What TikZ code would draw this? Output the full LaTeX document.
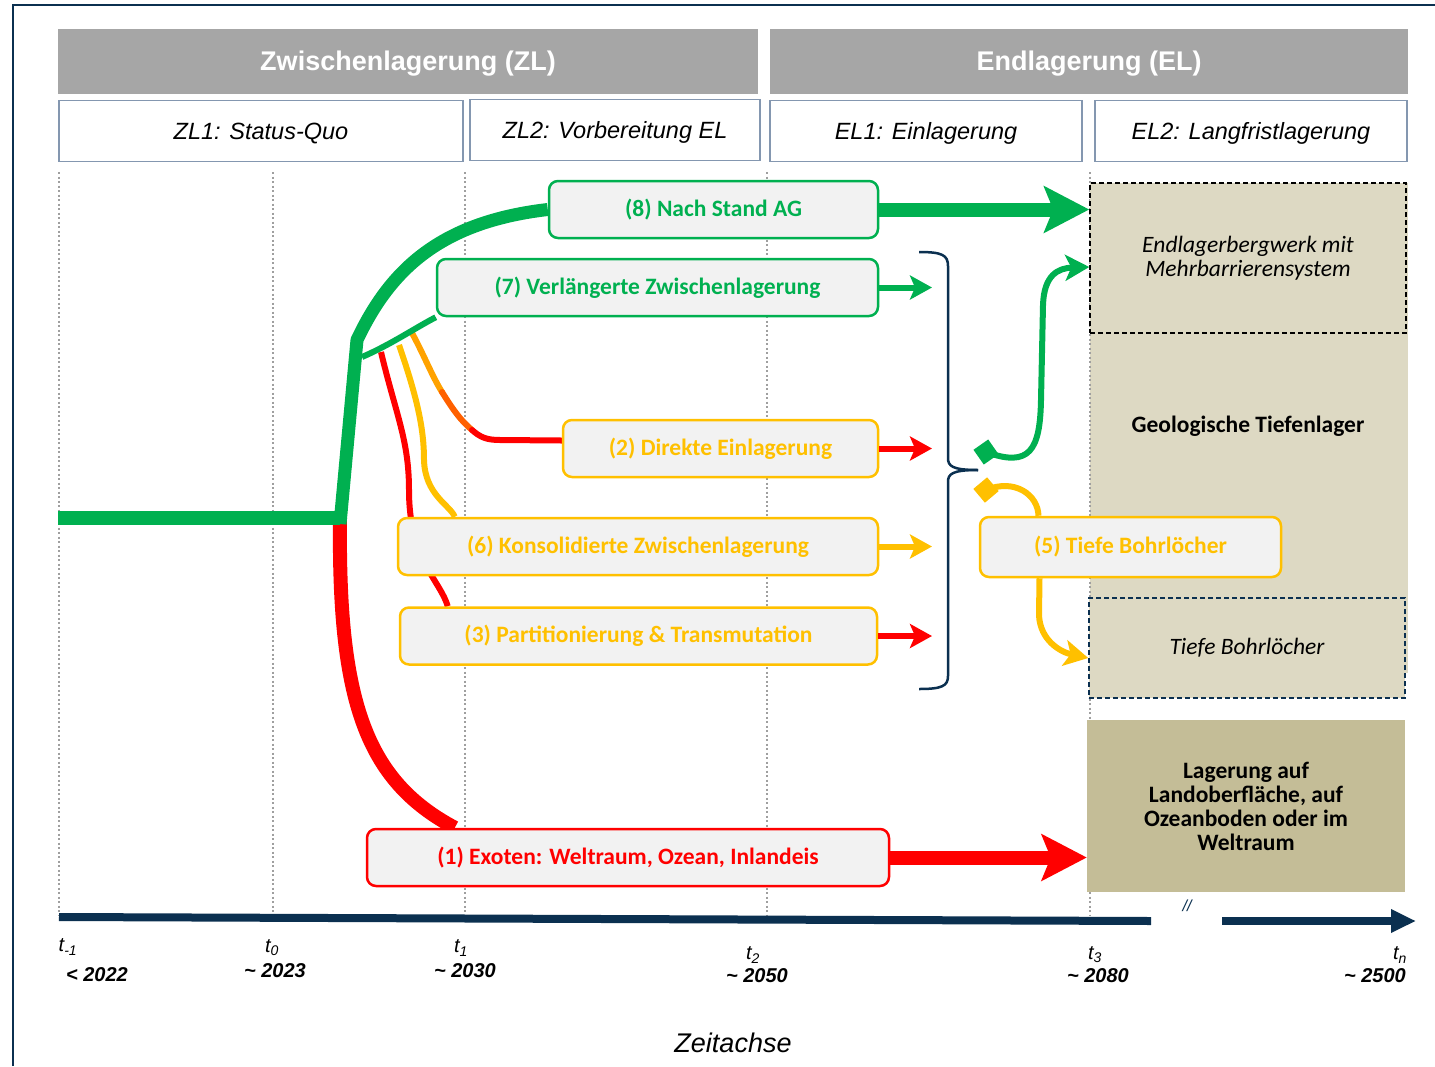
\documentclass[tikz,border=0pt]{standalone}
\usepackage{fontspec}
\setmainfont{Carlito}
\newfontfamily\arialfont{Liberation Sans}
\usetikzlibrary{arrows.meta, calc}
\pgfdeclarelayer{back}
\pgfdeclarelayer{lines}
\pgfsetlayers{back,lines,main}

\definecolor{headgray}{HTML}{A6A6A6}
\definecolor{subframe}{HTML}{8497B0}
\definecolor{boxfill}{HTML}{F2F2F2}
\definecolor{optgreen}{HTML}{00B050}
\definecolor{optyellow}{HTML}{FFC000}
\definecolor{optred}{HTML}{FF0000}
\definecolor{optamber}{HTML}{FFA200}
\definecolor{optorange}{HTML}{FF6000}
\definecolor{axisnavy}{HTML}{0B3050}
\definecolor{beige}{HTML}{DDD9C3}
\definecolor{darkbeige}{HTML}{C4BD97}

\begin{document}
\begin{tikzpicture}[x=1pt, y=-1pt,
    phase/.style={fill=headgray, text=white, inner sep=0pt, minimum height=65pt, text depth=0pt,
        font=\arialfont\bfseries\fontsize{27}{30}\selectfont},
    subphase/.style={draw=subframe, line width=1.5pt, fill=white, inner sep=0pt, text depth=0pt,
        minimum height=61pt, font=\arialfont\itshape\fontsize{23.5}{26}\selectfont},
    option/.style={draw=#1, text=#1, fill=boxfill, line width=2.5pt, rounded corners=9pt,
        inner sep=0pt, minimum height=57pt, font=\bfseries\fontsize{23.5}{26}\selectfont},
    gridline/.style={gray!75, line width=1.5pt, dash pattern=on 2pt off 2.5pt},
    bigarrow/.style={line width=14pt, -{Stealth[length=45pt, width=46pt, inset=9pt]}},
    smallarrow/.style={line width=6pt, -{Stealth[length=22pt, width=24pt, inset=5pt]}},
    curvearrow/.style={line width=6pt, -{Stealth[length=24pt, width=26pt, inset=6pt]}},
    knob/.style={fill=#1, inner sep=0pt, minimum size=18pt},
    tlabel/.style={font=\arialfont\itshape\fontsize{20}{22}\selectfont},
    yearlabel/.style={font=\arialfont\bfseries\itshape\fontsize{20}{22}\selectfont},
]
\useasboundingbox (0,0) rectangle (1435,1066);
\draw[axisnavy, line width=2pt] (13,1066) -- (13,5) -- (1435,5);

\node[phase, minimum width=700pt] (zl) at (408,61) {Zwischenlagerung (ZL)};
\node[phase, minimum width=638pt] (el) at (1089,61) {Endlagerung (EL)};
\node[subphase, minimum width=404pt] (zl1) at (261,131) {ZL1: Status-Quo};
\node[subphase, minimum width=290pt] (zl2) at (615,130) {ZL2: Vorbereitung EL};
\node[subphase, minimum width=312pt] (el1) at (926,131) {EL1: Einlagerung};
\node[subphase, minimum width=312pt] (el2) at (1251,131) {EL2: Langfristlagerung};

\begin{pgfonlayer}{back}
\fill[beige] (1090,183) rectangle (1408,673);
\foreach \x in {59,273,465,767,1090}
    \draw[gridline] (\x,172) -- (\x,915);
\end{pgfonlayer}

\node[draw, dash pattern=on 5pt off 3pt, line width=1.5pt, fill=beige, inner sep=0pt,
    minimum width=316pt, minimum height=150pt, align=center,
    font=\itshape\fontsize{23.5}{24}\selectfont] (mine) at (1248,258) {Endlagerbergwerk mit\\Mehrbarrierensystem};
\node[font=\bfseries\fontsize{23.5}{26}\selectfont] (geo) at (1248,426) {Geologische Tiefenlager};
\node[draw=axisnavy, dash pattern=on 5pt off 3pt, line width=1.5pt, fill=beige, inner sep=0pt,
    minimum width=316pt, minimum height=100pt,
    font=\itshape\fontsize{23.5}{26}\selectfont] (deep) at (1247,648) {Tiefe Bohrlöcher};
\node[fill=darkbeige, inner sep=0pt, minimum width=318pt, minimum height=172pt, align=center,
    font=\bfseries\fontsize{23.5}{24}\selectfont] (surface) at (1246,806) {Lagerung auf\\Landoberfläche, auf\\Ozeanboden oder im\\Weltraum};

\draw[axisnavy, line width=8pt] (59,917) -- (1151,921);
\draw[axisnavy, line width=8pt, -{Triangle[length=25pt, width=22pt]}] (1222,921) -- (1416,921);
\node[font=\arialfont\itshape\fontsize{16}{16}\selectfont, text=axisnavy] (gap) at (1187,906) {//};

\node[tlabel] (tm1) at (68,947) {t\textsubscript{-1}};
\node[tlabel] (t0) at (272,948) {t\textsubscript{0}};
\node[tlabel] (t1) at (461,948) {t\textsubscript{1}};
\node[tlabel] (t2) at (753,955) {t\textsubscript{2}};
\node[tlabel] (t3) at (1095,955) {t\textsubscript{3}};
\node[tlabel] (tn) at (1400,955) {t\textsubscript{n}};
\node[yearlabel] (ym1) at (97,975) {< 2022};
\node[yearlabel] (y0) at (275,971) {\textasciitilde{} 2023};
\node[yearlabel] (y1) at (465,971) {\textasciitilde{} 2030};
\node[yearlabel] (y2) at (757,976) {\textasciitilde{} 2050};
\node[yearlabel] (y3) at (1098,976) {\textasciitilde{} 2080};
\node[yearlabel] (yn) at (1375,976) {\textasciitilde{} 2500};
\node[font=\arialfont\itshape\fontsize{27}{30}\selectfont] (axistitle) at (733,1043) {Zeitachse};

\node[option=optgreen, minimum width=329pt] (opt8) at (713.5,209.5) {(8) Nach Stand AG};
\node[option=optgreen, minimum width=441pt] (opt7) at (657.5,287.5) {(7) Verlängerte Zwischenlagerung};
\node[option=optyellow, minimum width=315pt] (opt2) at (720.5,448.5) {(2) Direkte Einlagerung};
\node[option=optyellow, minimum width=480pt] (opt6) at (638,546.5) {(6) Konsolidierte Zwischenlagerung};
\node[option=optyellow, minimum width=477pt] (opt3) at (638.5,636) {(3) Partitionierung \& Transmutation};
\node[option=optred, minimum width=522pt] (opt1) at (628,857.5) {(1) Exoten: Weltraum, Ozean, Inlandeis};
\node[option=optyellow, minimum width=301pt, minimum height=60pt] (opt5) at (1130.5,547) {(5) Tiefe Bohrlöcher};

% Pfade bis zu den Optionen
\coordinate (start) at (58,518);
\coordinate (split) at (340,518);
\coordinate (fork) at (362,357);
\begin{pgfonlayer}{lines}
\draw[optred, line width=6pt] (381,352) .. controls (396,415) and (409,440) .. (409,490)
    .. controls (409,560) and (440,580) .. ($(opt3.north west)+(49,0)$);
\draw[optyellow, line width=6pt] (399,345) .. controls (418,400) and (424,430) .. (424,460)
    .. controls (425,495) and (450,505) .. ($(opt6.north west)+(58,0)$);
\draw[optamber, line width=6pt, line cap=round] (412,333) .. controls (424,355) and (432,376) .. (442,392);
\draw[optorange, line width=6pt, line cap=round] (442,392) .. controls (452,408) and (460,420) .. (472,430);
\draw[optred, line width=6pt, line cap=round] (472,430) .. controls (480,437) and (486,440) .. (500,440) -- ($(opt2.west)+(0,-8)$);
\draw[optgreen, line width=6pt] (fork) .. controls (390,345) and (415,328) .. (opt7.south west);
\draw[optred, line width=14pt] (split) .. controls (338,700) and (365,780) .. ($(opt1.north west)+(89,0)$);
\draw[optgreen, line width=14pt] (start) -- (split);
\draw[optgreen, line width=13pt, line join=round] ($(split)+(0,6)$) -- (357,340)
    .. controls (390,270) and (440,222) .. (opt8.west);
\end{pgfonlayer}

\coordinate (arrowend) at (932,0);
\draw[optgreen, bigarrow] (opt8.east) -- (opt8.east -| mine.west);
\draw[optgreen, smallarrow] (opt7.east) -- (opt7.east -| arrowend);
\draw[optred, smallarrow] (opt2.east) -- (opt2.east -| arrowend);
\draw[optyellow, smallarrow] (opt6.east) -- (opt6.east -| arrowend);
\draw[optred, smallarrow] (opt3.east) -- (opt3.east -| arrowend);
\draw[optred, bigarrow] (opt1.east) -- (opt1.east -| surface.west);

\coordinate (bracetip) at (978,470);
\draw[axisnavy, line width=2.5pt] (919,252) .. controls (942,252) and (948,255) .. (948,266) -- (948,458)
    .. controls (948,466) and (952,470) .. (bracetip);
\draw[axisnavy, line width=2.5pt] (bracetip) .. controls (952,470) and (948,474) .. (948,482) -- (948,676)
    .. controls (948,686) and (942,689) .. (919,689);

% Abzweige hinter der Klammer
\node[knob=optgreen, rotate=35] (gknob) at (986,452) {};
\node[knob=optyellow, rotate=40] (yknob) at (986,490) {};
\begin{pgfonlayer}{lines}
\draw[optgreen, curvearrow] (gknob.center) .. controls (1030,468) and (1040,450) .. (1041,400) -- (1043,305)
    .. controls (1044,275) and (1058,268) .. ([yshift=-9pt]mine.west);
\draw[optyellow, line width=6pt] (yknob.center) .. controls (1015,478) and (1038,495) .. ([xshift=-92pt]opt5.north);
\draw[optyellow, curvearrow] ([xshift=-91pt]opt5.south) -- (1039,615)
    .. controls (1040,640) and (1060,652) .. ([yshift=-10pt]deep.west);
\end{pgfonlayer}

\end{tikzpicture}
\end{document}
